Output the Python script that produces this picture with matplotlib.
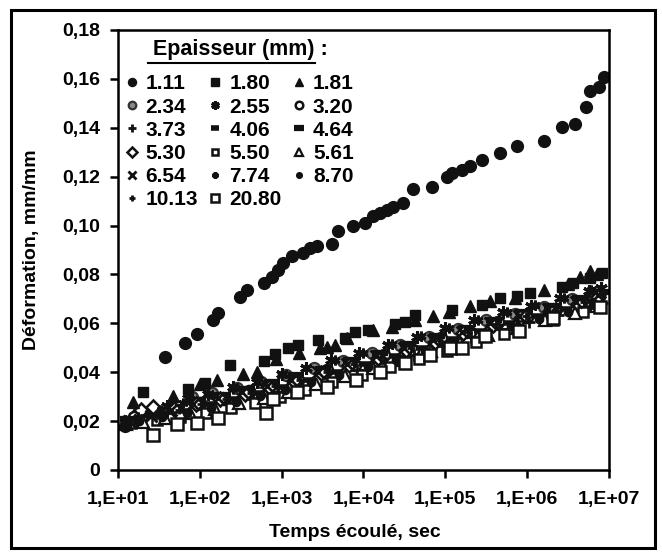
import numpy as np
import matplotlib
matplotlib.use('Agg')
import matplotlib.pyplot as plt
from matplotlib.lines import Line2D
from matplotlib.patches import Rectangle

plt.rcParams['font.family'] = ['Liberation Sans', 'DejaVu Sans']
plt.rcParams['font.weight'] = 'bold'
plt.rcParams['font.size'] = 14

x_ticks = [1e1, 1e2, 1e3, 1e4, 1e5, 1e6, 1e7]
x_tick_labels = ['1,E+01', '1,E+02', '1,E+03', '1,E+04', '1,E+05', '1,E+06', '1,E+07']
y_ticks = [0, 0.02, 0.04, 0.06, 0.08, 0.10, 0.12, 0.14, 0.16, 0.18]
y_tick_labels = ['0', '0,02', '0,04', '0,06', '0,08', '0,10', '0,12', '0,14', '0,16', '0,18']

# log10(temps, s) et deformation (mm/mm) pour chaque epaisseur
logt_111 = [1.09, 1.57, 1.82, 1.97, 2.16, 2.22, 2.49, 2.58, 2.78, 2.88, 2.96, 3.02, 3.13, 3.26,
            3.35, 3.43, 3.62, 3.69, 3.87, 4.02, 4.12, 4.20, 4.29, 4.36, 4.48, 4.61, 4.84, 5.02,
            5.08, 5.21, 5.30, 5.45, 5.67, 5.88, 6.21, 6.42, 6.59, 6.72, 6.77, 6.88, 6.94]
eps_111 = [0.0180, 0.0462, 0.0519, 0.0556, 0.0614, 0.0642, 0.0708, 0.0736, 0.0765, 0.0789, 0.0818,
           0.0847, 0.0875, 0.0888, 0.0908, 0.0916, 0.0924, 0.0978, 0.0998, 0.1010, 0.1039, 0.1051,
           0.1063, 0.1076, 0.1092, 0.1149, 0.1157, 0.1198, 0.1215, 0.1227, 0.1243, 0.1268, 0.1297,
           0.1325, 0.1346, 0.1403, 0.1415, 0.1485, 0.1550, 0.1566, 0.1607]

logt_180 = [1.31, 1.86, 2.06, 2.37, 2.78, 2.92, 3.08, 3.20, 3.44, 3.78, 3.90, 4.06, 4.39, 4.51,
            4.63, 5.08, 5.45, 5.67, 5.88, 6.04, 6.43, 6.56, 6.77, 6.92]
eps_180 = [0.0319, 0.0331, 0.0356, 0.0429, 0.0446, 0.0474, 0.0499, 0.0511, 0.0532, 0.0540, 0.0564,
           0.0573, 0.0597, 0.0605, 0.0634, 0.0654, 0.0675, 0.0703, 0.0712, 0.0724, 0.0748, 0.0765,
           0.0785, 0.0806]

logt_181 = [1.18, 1.67, 2.00, 2.21, 2.53, 2.70, 2.93, 3.21, 3.47, 3.56, 3.65, 3.80, 4.12, 4.35,
            4.63, 4.85, 5.05, 5.30, 5.55, 5.85, 6.20, 6.50, 6.65, 6.77, 6.85]
eps_181 = [0.0278, 0.0303, 0.0352, 0.0368, 0.0393, 0.0401, 0.0454, 0.0479, 0.0499, 0.0503, 0.0511,
           0.0540, 0.0573, 0.0585, 0.0614, 0.0630, 0.0646, 0.0671, 0.0690, 0.0705, 0.0735, 0.0760,
           0.0789, 0.0814, 0.0800]

logt_234 = [1.25, 1.39, 1.62, 1.90, 2.15, 2.45, 2.75, 3.05, 3.40, 3.75, 4.10, 4.45, 4.80, 5.15,
            5.50, 5.85, 6.20, 6.55, 6.85]
eps_234 = [0.0235, 0.0240, 0.0255, 0.0300, 0.0315, 0.0335, 0.0360, 0.0388, 0.0418, 0.0445, 0.0478,
           0.0512, 0.0545, 0.0578, 0.0612, 0.0640, 0.0668, 0.0700, 0.0728]

logt_255 = [1.15, 1.35, 1.60, 1.85, 2.10, 2.40, 2.70, 3.00, 3.30, 3.60, 3.95, 4.30, 4.65, 5.00,
            5.35, 5.70, 6.05, 6.40, 6.75, 6.90]
eps_255 = [0.0210, 0.0232, 0.0262, 0.0295, 0.0312, 0.0340, 0.0360, 0.0392, 0.0418, 0.0450, 0.0478,
           0.0512, 0.0545, 0.0582, 0.0612, 0.0648, 0.0672, 0.0702, 0.0732, 0.0745]

logt_320 = [1.20, 1.45, 1.72, 2.00, 2.30, 2.60, 2.90, 3.20, 3.55, 3.90, 4.25, 4.60, 4.95, 5.30,
            5.65, 6.00, 6.35, 6.70, 6.88]
eps_320 = [0.0215, 0.0232, 0.0245, 0.0275, 0.0290, 0.0322, 0.0340, 0.0368, 0.0410, 0.0428, 0.0470,
           0.0490, 0.0540, 0.0565, 0.0605, 0.0625, 0.0660, 0.0685, 0.0712]

logt_373 = [1.18, 1.50, 1.78, 2.05, 2.35, 2.65, 2.95, 3.25, 3.58, 3.92, 4.28, 4.62, 4.98, 5.32,
            5.68, 6.02, 6.38, 6.72, 6.92]
eps_373 = [0.0195, 0.0215, 0.0228, 0.0248, 0.0272, 0.0292, 0.0320, 0.0345, 0.0378, 0.0408, 0.0438,
           0.0472, 0.0508, 0.0542, 0.0578, 0.0605, 0.0632, 0.0662, 0.0685]

logt_406 = [1.22, 1.55, 1.82, 2.12, 2.42, 2.72, 3.02, 3.35, 3.68, 4.02, 4.38, 4.72, 5.08, 5.42,
            5.78, 6.12, 6.48, 6.80]
eps_406 = [0.0200, 0.0220, 0.0242, 0.0268, 0.0290, 0.0315, 0.0340, 0.0370, 0.0400, 0.0432, 0.0468,
           0.0498, 0.0535, 0.0570, 0.0602, 0.0630, 0.0658, 0.0690]

logt_464 = [1.12, 1.42, 1.70, 1.98, 2.28, 2.58, 2.88, 3.18, 3.50, 3.85, 4.20, 4.55, 4.90, 5.25,
            5.60, 5.95, 6.30, 6.65, 6.90]
eps_464 = [0.0210, 0.0225, 0.0255, 0.0285, 0.0308, 0.0332, 0.0360, 0.0388, 0.0415, 0.0448, 0.0480,
           0.0515, 0.0548, 0.0582, 0.0615, 0.0645, 0.0672, 0.0705, 0.0728]

logt_530 = [1.28, 1.43, 1.68, 1.95, 2.25, 2.55, 2.85, 3.15, 3.48, 3.82, 4.18, 4.52, 4.88, 5.22,
            5.58, 5.92, 6.28, 6.62, 6.86]
eps_530 = [0.0245, 0.0258, 0.0250, 0.0268, 0.0290, 0.0312, 0.0338, 0.0365, 0.0398, 0.0428, 0.0460,
           0.0492, 0.0525, 0.0560, 0.0592, 0.0620, 0.0652, 0.0680, 0.0708]

logt_550 = [1.16, 1.48, 1.76, 2.08, 2.38, 2.68, 2.98, 3.28, 3.62, 3.98, 4.32, 4.68, 5.02, 5.38,
            5.72, 5.95, 6.32, 6.68, 6.89]
eps_550 = [0.0192, 0.0205, 0.0218, 0.0232, 0.0255, 0.0272, 0.0300, 0.0328, 0.0358, 0.0388, 0.0420,
           0.0452, 0.0488, 0.0522, 0.0558, 0.0630, 0.0615, 0.0648, 0.0668]

logt_561 = [1.10, 1.30, 1.58, 1.88, 2.18, 2.48, 2.78, 3.08, 3.42, 3.78, 4.12, 4.48, 4.82, 5.18,
            5.52, 5.88, 6.22, 6.58, 6.84]
eps_561 = [0.0190, 0.0198, 0.0212, 0.0232, 0.0250, 0.0272, 0.0295, 0.0320, 0.0352, 0.0385, 0.0418,
           0.0450, 0.0485, 0.0518, 0.0552, 0.0582, 0.0612, 0.0642, 0.0670]

logt_654 = [1.14, 1.40, 1.65, 1.92, 2.22, 2.52, 2.82, 3.12, 3.45, 3.80, 4.15, 4.50, 4.85, 5.20,
            5.55, 5.90, 6.25, 6.60, 6.87]
eps_654 = [0.0200, 0.0220, 0.0245, 0.0270, 0.0295, 0.0318, 0.0345, 0.0370, 0.0402, 0.0435, 0.0465,
           0.0498, 0.0530, 0.0565, 0.0600, 0.0628, 0.0658, 0.0688, 0.0715]

logt_774 = [1.24, 1.52, 1.80, 2.10, 2.40, 2.70, 3.00, 3.30, 3.65, 4.00, 4.35, 4.70, 5.05, 5.40,
            5.75, 6.10, 6.45, 6.78]
eps_774 = [0.0215, 0.0245, 0.0275, 0.0305, 0.0332, 0.0360, 0.0388, 0.0418, 0.0448, 0.0480, 0.0515,
           0.0548, 0.0582, 0.0615, 0.0648, 0.0675, 0.0702, 0.0735]

logt_870 = [1.26, 1.54, 1.84, 2.14, 2.44, 2.74, 3.04, 3.36, 3.70, 4.05, 4.40, 4.75, 5.10, 5.45,
            5.80, 6.15, 6.50, 6.82]
eps_870 = [0.0200, 0.0215, 0.0232, 0.0255, 0.0278, 0.0302, 0.0328, 0.0358, 0.0388, 0.0420, 0.0450,
           0.0485, 0.0520, 0.0555, 0.0590, 0.0618, 0.0645, 0.0675]

logt_1013 = [1.20, 1.46, 1.74, 2.02, 2.32, 2.62, 2.92, 3.22, 3.56, 3.88, 4.22, 4.58, 4.92, 5.28,
             5.62, 5.98, 6.34, 6.70, 6.91]
eps_1013 = [0.0202, 0.0222, 0.0245, 0.0268, 0.0292, 0.0315, 0.0342, 0.0370, 0.0402, 0.0432, 0.0462,
            0.0498, 0.0530, 0.0565, 0.0598, 0.0628, 0.0655, 0.0688, 0.0718]

logt_2080 = [1.43, 1.72, 1.97, 2.22, 2.81, 2.90, 3.19, 3.55, 3.91, 4.20, 4.51, 4.81, 5.06, 5.20,
             5.49, 5.90, 6.31, 6.89]
eps_2080 = [0.0143, 0.0188, 0.0192, 0.0212, 0.0233, 0.0290, 0.0319, 0.0340, 0.0368, 0.0400, 0.0438,
            0.0470, 0.0500, 0.0500, 0.0550, 0.0570, 0.0620, 0.0667]

labels = ['1.11', '1.80', '1.81', '2.34', '2.55', '3.20', '3.73', '4.06', '4.64',
          '5.30', '5.50', '5.61', '6.54', '7.74', '8.70', '10.13', '20.80']
series = [(logt_111, eps_111), (logt_180, eps_180), (logt_181, eps_181), (logt_234, eps_234),
          (logt_255, eps_255), (logt_320, eps_320), (logt_373, eps_373), (logt_406, eps_406),
          (logt_464, eps_464), (logt_530, eps_530), (logt_550, eps_550), (logt_561, eps_561),
          (logt_654, eps_654), (logt_774, eps_774), (logt_870, eps_870), (logt_1013, eps_1013),
          (logt_2080, eps_2080)]

k = '#111111'
w = 'white'
styles = [
    dict(marker='o', ms=8.5, mfc=k, mec=k, mew=1),
    dict(marker='s', ms=7.5, mfc=k, mec=k, mew=1),
    dict(marker='^', ms=8.5, mfc=k, mec=k, mew=1),
    dict(marker='o', ms=8, mfc='#8a8a8a', mec='#333333', mew=1.6),
    dict(marker=(6, 2, 0), ms=9, mfc=k, mec=k, mew=2.2),
    dict(marker='o', ms=8, mfc=w, mec=k, mew=1.8),
    dict(marker='+', ms=8, mfc=k, mec=k, mew=2),
    dict(marker='_', ms=8, mfc=k, mec=k, mew=4),
    dict(marker='_', ms=11, mfc=k, mec=k, mew=4.5),
    dict(marker='D', ms=7, mfc=w, mec=k, mew=1.8),
    dict(marker='s', ms=7, mfc=w, mec=k, mew=1.8),
    dict(marker='^', ms=8.5, mfc=w, mec=k, mew=1.6),
    dict(marker='x', ms=8, mfc=k, mec=k, mew=2),
    dict(marker=(6, 2, 0), ms=7, mfc=k, mec=k, mew=2),
    dict(marker='o', ms=6, mfc=k, mec=k, mew=1),
    dict(marker='+', ms=6, mfc=k, mec=k, mew=2),
    dict(marker='s', ms=8, mfc=w, mec=k, mew=1.8),
]


def main():
    fig = plt.figure(figsize=(6.62, 5.52), dpi=100)
    fig.patches.append(Rectangle((0.0166, 0.007), 0.9728, 0.975, transform=fig.transFigure,
                                 fill=False, ec='black', lw=2.2))
    ax = fig.add_axes([0.1782, 0.1486, 0.7417, 0.7971])

    # bande du bas d'abord, puis les series du dessus
    draw_order = list(range(3, 17)) + [1, 2, 0]
    handles = {}
    for i in draw_order:
        lt, ep = series[i]
        h, = ax.plot(10 ** np.array(lt), ep, ls='none', label=labels[i], **styles[i])
        handles[i] = h

    ax.set_xscale('log')
    ax.set_xlim(1e1, 1e7)
    ax.set_ylim(0, 0.18)
    ax.set_xticks(x_ticks)
    ax.set_xticklabels(x_tick_labels)
    ax.minorticks_off()
    ax.set_yticks(y_ticks)
    ax.set_yticklabels(y_tick_labels)
    for s in ax.spines.values():
        s.set_linewidth(1.8)
    ax.tick_params(direction='out', length=6, width=1.8, labelsize=14, pad=7)
    ax.tick_params(axis='x', pad=9)

    ax.set_xlabel('Temps écoulé, sec', fontsize=14, fontweight='bold')
    ax.set_ylabel('Déformation, mm/mm', fontsize=14, fontweight='bold')
    ax.xaxis.set_label_coords(0.483, -0.122)
    ax.yaxis.set_label_coords(-0.158, 0.5)

    # legende : 3 colonnes remplies ligne par ligne
    order = [i for c in range(3) for i in range(c, 17, 3)]
    ax.legend([handles[i] for i in order], [labels[i] for i in order], ncol=3,
              loc='upper left', bbox_to_anchor=(0.012, 0.899), frameon=False,
              borderpad=0, borderaxespad=0, handlelength=0.75, handletextpad=0.3,
              columnspacing=0.45, labelspacing=0.2, markerscale=0.68,
              prop=dict(family='Liberation Sans', weight='bold', size=15))

    ax.text(0.071, 0.955, 'Epaisseur (mm) :', transform=ax.transAxes, ha='left', va='center',
            fontsize=15.5, fontweight='bold')
    ax.add_line(Line2D([0.061, 0.401], [0.925, 0.925], transform=ax.transAxes, color='black',
                       lw=1.5))

    fig.savefig('out.png', dpi=100)


if __name__ == '__main__':
    main()
